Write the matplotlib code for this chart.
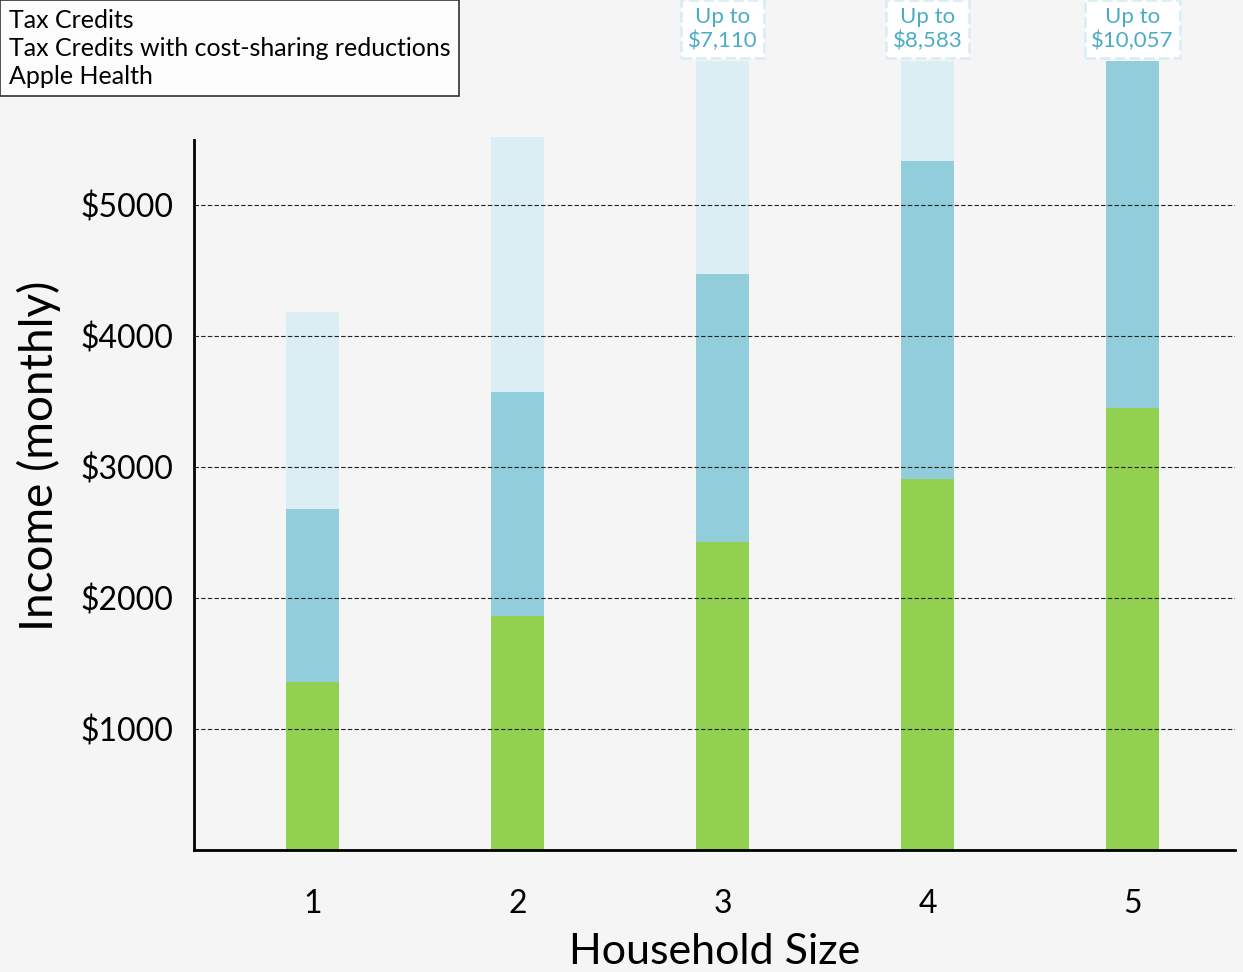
import numpy as np
import matplotlib.pyplot as plt

plt.rcParams['font.family'] = ['Lato', 'DejaVu Sans']

# data (monthly income limits)
household = [1, 2, 3, 4, 5]
apple_health = [1360, 1860, 2430, 2910, 3450]
cost_sharing = [2680, 3570, 4470, 5340, 6290]
tax_credits = [4180, 5520, 7110, 8583, 10057]
top_labels = ["", "", "Up to\n$7,110", "Up to\n$8,583", "Up to\n$10,057"]
legend_labels = ["Tax Credits", "Tax Credits with cost-sharing reductions", "Apple Health"]

bg = "#f5f5f5"
c_green = "#92d050"
c_blue = "#92cddc"
c_light = "#daeef3"

fig = plt.figure(figsize=(12.43, 9.72), dpi=100, facecolor=bg)
ax = fig.add_axes([194/1243, 1 - 850/972, (1235-194)/1243, (850-61)/972])
ax.set_facecolor(bg)

x = np.array(household)
w = 0.26
b1 = ax.bar(x, tax_credits, w, color=c_light, zorder=1)
b2 = ax.bar(x, cost_sharing, w, color=c_blue, zorder=1)
b3 = ax.bar(x, apple_health, w, color=c_green, zorder=1)

ax.set_xlim(0.42, 5.5)
ax.set_ylim(76, 6100)
ax.set_yticks([1000, 2000, 3000, 4000, 5000])
ax.set_yticklabels(["$1000", "$2000", "$3000", "$4000", "$5000"])
ax.set_xticks(x)
ax.tick_params(axis='both', length=0, labelsize=23)
ax.tick_params(axis='x', pad=28)
ax.tick_params(axis='y', pad=15)
ax.grid(axis='y', color='#222222', linestyle=(0, (4, 2)), linewidth=0.8, zorder=3)
ax.set_axisbelow(False)

for s in ['top', 'right']:
    ax.spines[s].set_visible(False)
ax.spines['left'].set_bounds(76, 5500)
ax.spines['left'].set_linewidth(2)
ax.spines['bottom'].set_linewidth(2)

ax.set_xlabel("Household Size", fontsize=31, labelpad=10)
ax.set_ylabel("Income (monthly)", fontsize=33, labelpad=14)

# "Up to" boxes above the tallest bars
for xi, lab in zip(x, top_labels):
    if lab:
        ax.annotate(lab, xy=(xi, 1), xycoords=('data', 'axes fraction'),
                    xytext=(0, 7), textcoords='offset points',
                    ha='center', va='bottom', fontsize=16, color='#4bacc6',
                    linespacing=1.25,
                    bbox=dict(boxstyle='square,pad=0.3', fc='white',
                              ec='#daeef3', ls='--', lw=2),
                    annotation_clip=False, zorder=5)

leg = fig.legend([b1, b2, b3], legend_labels, loc='upper left',
                 bbox_to_anchor=(0, 1), fontsize=18, frameon=True,
                 handlelength=0, handletextpad=0, fancybox=False,
                 borderpad=0.35, labelspacing=0.2, borderaxespad=0)
leg.get_frame().set_edgecolor('black')
leg.get_frame().set_linewidth(1.2)
for h in leg.legend_handles:
    h.set_visible(False)

fig.savefig("out.png", dpi=100, facecolor=bg)
